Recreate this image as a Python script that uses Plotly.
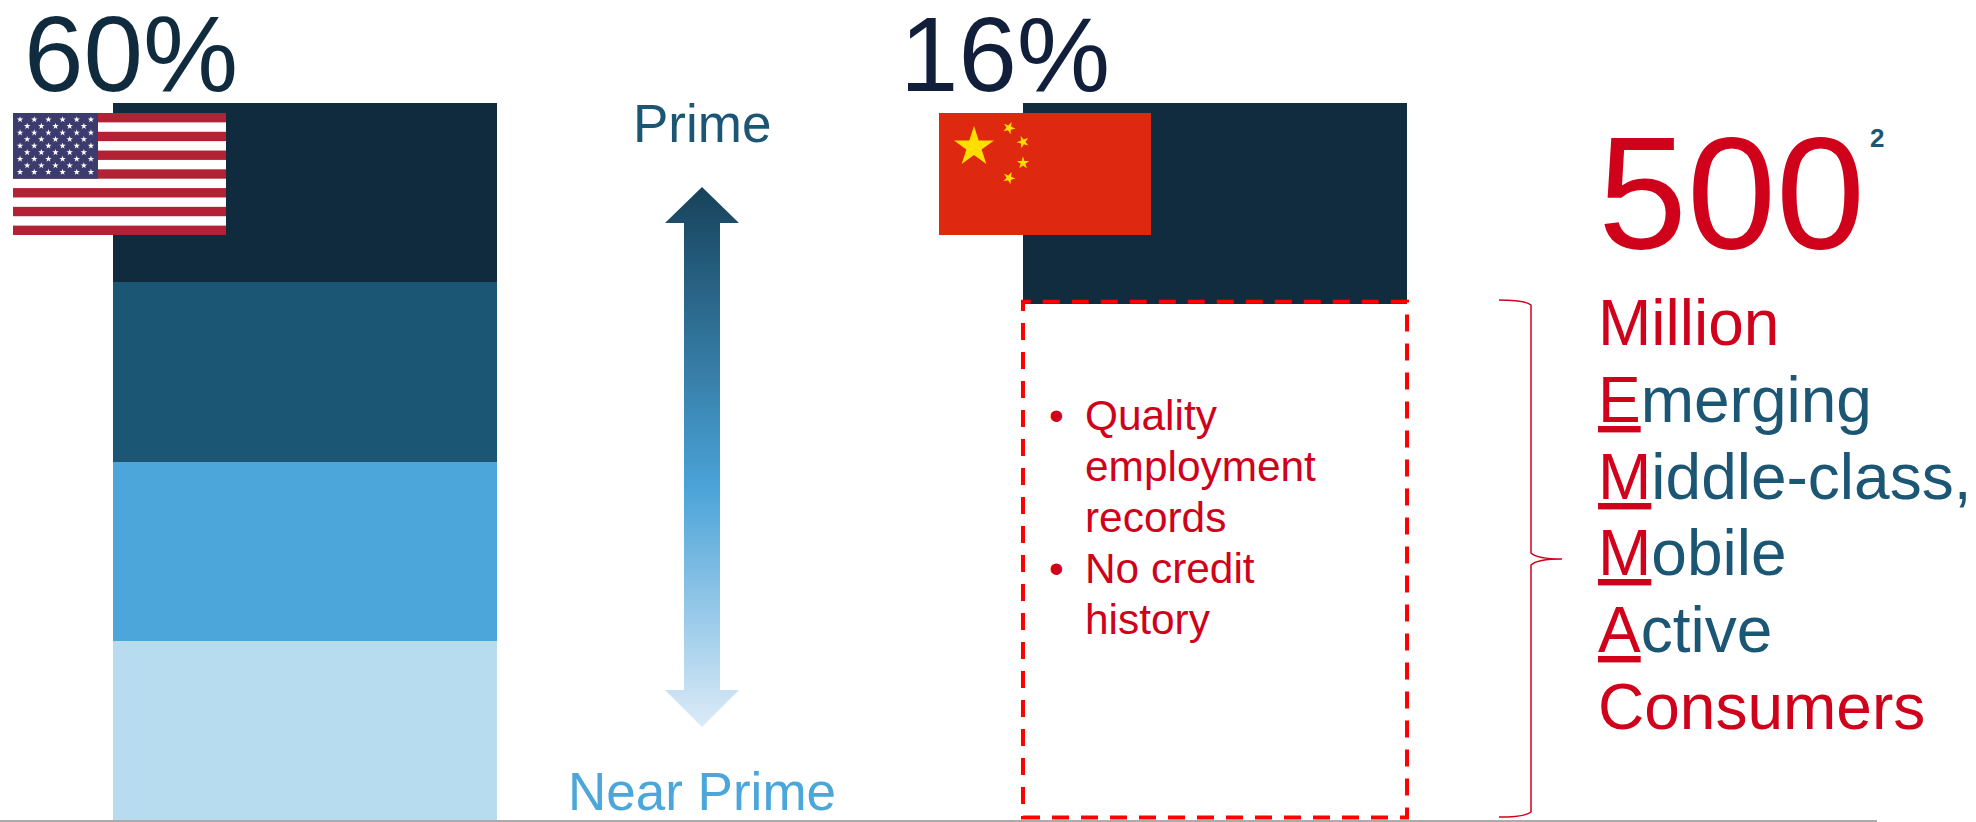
import base64
import math
import plotly.graph_objects as go

# --- data ---
countries = ["United States", "", "China"]
us_tiers = ["Prime+", "Prime", "Mid Prime", "Near Prime"]
us_values = [15, 15, 15, 15]          # stack runs from the bottom tier up, total 60
us_colors = ["#0F2B3D", "#1C5675", "#4DA6D9", "#B8DCEF"]
china_scored = 16
china_unscored = 41
headline_us = "60%"
headline_china = "16%"
headline_emma = "500"
emma_lines = [
    [("Million", "R")],
    [("E", "U"), ("merging", "B")],
    [("M", "U"), ("iddle-class,", "B")],
    [("M", "U"), ("obile", "B")],
    [("A", "U"), ("ctive", "B")],
    [("Consumers", "R")],
]
box_lines = ["Quality", "employment", "records", "No credit", "history"]

# --- page geometry ---
W, H = 1976, 822
RED = "#D0021B"
BLUE = "#1C5675"
FONT = "Liberation Sans"


def px(x):
    return x / W


def py(y):
    return 1 - y / H


def label(text, x, baseline, size, color, anchor="left"):
    """Text placed by its left edge (or centre) and baseline, in page pixels."""
    top = baseline - 0.905 * size
    return dict(
        text=text, xref="paper", yref="paper", x=px(x), y=py(top),
        xanchor=anchor, yanchor="top", showarrow=False, borderpad=0, borderwidth=0,
        font=dict(family=FONT, size=size, color=color),
    )


def star_points(cx, cy, r, rot=0.0):
    pts = []
    for i in range(10):
        a = -math.pi / 2 + rot + i * math.pi / 5
        rad = r if i % 2 == 0 else r * 0.382
        pts.append(f"{cx + rad * math.cos(a):.2f},{cy + rad * math.sin(a):.2f}")
    return " ".join(pts)


def svg_uri(svg):
    return "data:image/svg+xml;base64," + base64.b64encode(svg.encode()).decode()


def us_flag():
    w, h = 213, 122
    parts = [f'<svg xmlns="http://www.w3.org/2000/svg" width="{w}" height="{h}" viewBox="0 0 {w} {h}">',
             f'<rect width="{w}" height="{h}" fill="#FFFFFF"/>']
    sh = h / 13
    for i in range(0, 13, 2):
        parts.append(f'<rect y="{i * sh:.2f}" width="{w}" height="{sh:.2f}" fill="#B22234"/>')
    cw, ch = 85, sh * 7
    parts.append(f'<rect width="{cw}" height="{ch:.2f}" fill="#3C3B6E"/>')
    for row in range(9):
        n = 6 if row % 2 == 0 else 5
        for col in range(n):
            x = cw * (col * 2 + (1 if row % 2 == 0 else 2)) / 12
            y = ch * (row + 1) / 10
            parts.append(f'<polygon points="{star_points(x, y, 3.4)}" fill="#FFFFFF"/>')
    parts.append("</svg>")
    return svg_uri("".join(parts))


def china_flag():
    w, h = 212, 122
    parts = [f'<svg xmlns="http://www.w3.org/2000/svg" width="{w}" height="{h}" viewBox="0 0 {w} {h}">',
             f'<rect width="{w}" height="{h}" fill="#DE2910"/>',
             f'<polygon points="{star_points(35, 34, 21)}" fill="#FFDE00"/>']
    for (x, y, rot) in [(70, 15, 0.4), (84, 29, 0.9), (84, 50, 0.0), (70, 65, 0.4)]:
        parts.append(f'<polygon points="{star_points(x, y, 6.5, rot)}" fill="#FFDE00"/>')
    parts.append("</svg>")
    return svg_uri("".join(parts))


def gradient_arrow():
    w, h = 74, 540
    cx = w / 2
    pts = [(cx, 0), (w, 36), (cx + 18, 36), (cx + 18, h - 37), (w, h - 37), (cx, h),
           (0, h - 37), (cx - 18, h - 37), (cx - 18, 36), (0, 36)]
    poly = " ".join(f"{x},{y}" for x, y in pts)
    svg = (f'<svg xmlns="http://www.w3.org/2000/svg" width="{w}" height="{h}" viewBox="0 0 {w} {h}">'
           '<defs><linearGradient id="g" x1="0" y1="0" x2="0" y2="1">'
           '<stop offset="0" stop-color="#17425A"/><stop offset="0.555" stop-color="#4AA3D8"/>'
           '<stop offset="1" stop-color="#DCEBF7"/></linearGradient></defs>'
           f'<polygon points="{poly}" fill="url(#g)"/></svg>')
    return svg_uri(svg)


def picture(uri, x, y, w, h):
    return dict(source=uri, xref="paper", yref="paper", x=px(x), y=py(y),
                sizex=w / W, sizey=h / H, xanchor="left", yanchor="top",
                sizing="stretch", layer="above")


# --- bars ---
BAR_WIDTH = 0.844
fig = go.Figure()
for tier, value, color in zip(reversed(us_tiers), reversed(us_values), reversed(us_colors)):
    fig.add_trace(go.Bar(x=[countries[0]], y=[value], width=BAR_WIDTH, name=tier,
                         marker=dict(color=color, line_width=0), yaxis="y", hoverinfo="skip"))
fig.add_trace(go.Bar(x=[countries[2]], y=[china_unscored], width=BAR_WIDTH, name="No credit history",
                     marker=dict(color="#FFFFFF", line_width=0), yaxis="y2", hoverinfo="skip"))
fig.add_trace(go.Bar(x=[countries[2]], y=[china_scored], width=BAR_WIDTH, name="Scored",
                     marker=dict(color="#112C3E", line_width=0), yaxis="y2", hoverinfo="skip"))

# --- text ---
annotations = [
    label(headline_us, 24, 91, 107, "#0F2B3D"),
    label(headline_china, 900, 91, 105, "#111F3A"),
    label(headline_emma, 1598, 248, 160, RED),
    label("<b>2</b>", 1870, 147, 26, BLUE),
    label("Prime", 702, 142, 53, BLUE, "center"),
    label("Near Prime", 702, 810, 53, "#4BA6D9", "center"),
]
SPAN = {
    "R": f"color:{RED}",
    "U": f"color:{RED};text-decoration:underline",
    "B": f"color:{BLUE}",
}
for i, parts in enumerate(emma_lines):
    text = "".join(f'<span style="{SPAN[k]}">{t}</span>' for t, k in parts)
    annotations.append(label(text, 1598, 345 + i * 76.8, 64, RED))
for i, line in enumerate(box_lines):
    annotations.append(label(line, 1085, 430 + i * 51, 42.4, RED))
annotations.append(label("•", 1049, 430, 42.4, RED))
annotations.append(label("•", 1049, 583, 42.4, RED))

BASE = 820
TOP = 103
china_total = china_scored + china_unscored

# --- brace and dashed outline ---
brace = (f"M {px(1499)} {py(300)} Q {px(1525)} {py(300)} {px(1531)} {py(305)} "
         f"L {px(1531)} {py(553)} Q {px(1537)} {py(559)} {px(1562)} {py(559)} "
         f"Q {px(1537)} {py(559)} {px(1531)} {py(565)} "
         f"L {px(1531)} {py(812)} Q {px(1525)} {py(817)} {px(1499)} {py(817)}")
# The outline sits just above the baseline so its stroke stays clear of the axis line.
outline_lift = 2.5 * china_total / (BASE - TOP)
shapes = [
    dict(type="path", path=brace, xref="paper", yref="paper", line=dict(color=RED, width=1.5)),
    dict(type="rect", xref="x", yref="y2", x0=2 - BAR_WIDTH / 2, x1=2 + BAR_WIDTH / 2,
         y0=outline_lift, y1=china_unscored + outline_lift,
         line=dict(color="#FF0000", width=4, dash="17px,12px"),
         fillcolor="rgba(0,0,0,0)", layer="above"),
]

fig.update_layout(
    width=W, height=H, margin=dict(l=0, r=0, t=0, b=0),
    paper_bgcolor="#FFFFFF", plot_bgcolor="#FFFFFF",
    barmode="stack", bargap=0, showlegend=False,
    xaxis=dict(type="category", categoryorder="array", categoryarray=countries,
               domain=[0, 1877 / W], range=[-305 / 455, (1877 - 305) / 455],
               showgrid=False, showticklabels=False, ticks="", zeroline=False,
               showline=True, linecolor="#ABABAB", linewidth=2),
    yaxis=dict(domain=[(H - BASE) / H, (H - TOP) / H], range=[0, sum(us_values)],
               visible=False),
    yaxis2=dict(domain=[(H - BASE) / H, (H - TOP) / H], range=[0, china_total],
                overlaying="y", visible=False),
    annotations=annotations,
    shapes=shapes,
    images=[
        picture(us_flag(), 13, 113, 213, 122),
        picture(china_flag(), 939, 113, 212, 122),
        picture(gradient_arrow(), 665, 187, 74, 540),
    ],
)

fig.write_html("out.html", config={"displayModeBar": False})
